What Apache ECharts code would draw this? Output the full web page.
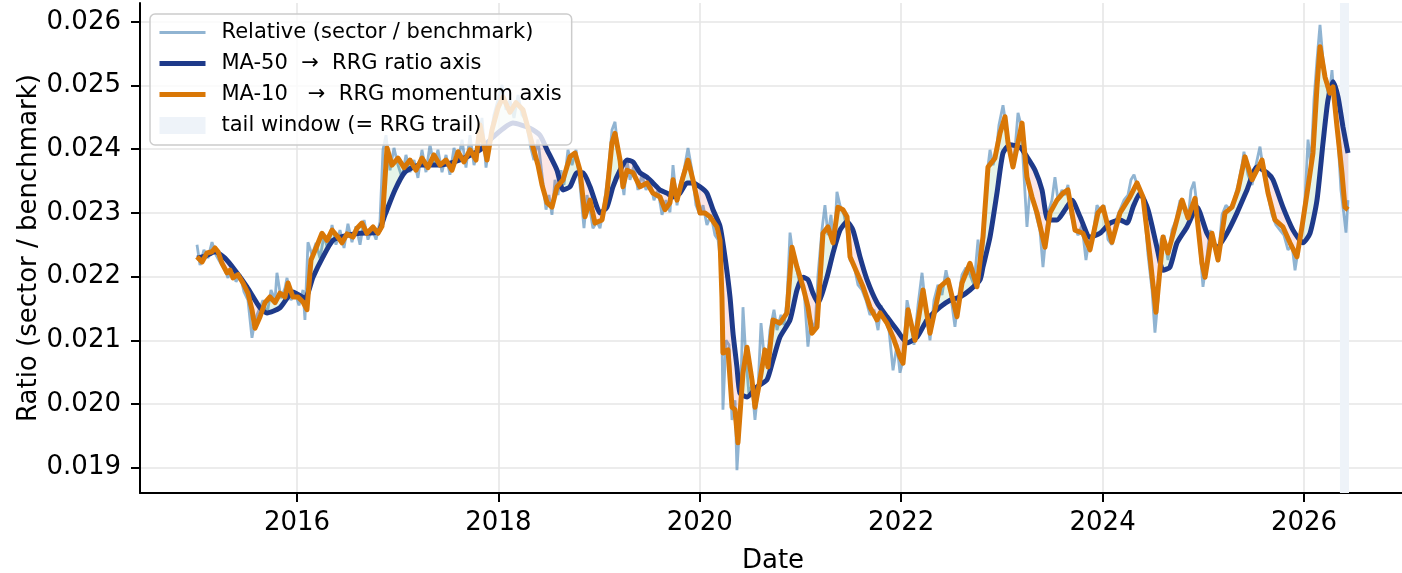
<!DOCTYPE html>
<html>
<head>
<meta charset="utf-8">
<script src="https://cdn.jsdelivr.net/npm/echarts@6.0.0/dist/echarts.min.js"></script>
<style>
  html, body { margin: 0; padding: 0; background: #fff; }
  #chart { width: 1402px; height: 573px; }
</style>
</head>
<body>
<div id="chart"></div>
<script>
// ---- data (x = decimal year) ----
const relYears = [
  2015.007,2015.037,2015.076,2015.116,2015.156,2015.196,2015.235,2015.275,2015.315,2015.354,
  2015.394,2015.434,2015.474,2015.513,2015.553,2015.583,2015.623,2015.662,2015.702,2015.742,
  2015.782,2015.801,2015.841,2015.881,2015.901,2015.940,2015.980,2016.020,2016.060,2016.079,
  2016.109,2016.149,2016.189,2016.228,2016.268,2016.308,2016.348,2016.387,2016.427,2016.467,
  2016.506,2016.546,2016.586,2016.626,2016.666,2016.705,2016.745,2016.785,2016.824,2016.854,
  2016.884,2016.924,2016.963,2017.003,2017.043,2017.082,2017.122,2017.162,2017.201,2017.241,
  2017.281,2017.321,2017.360,2017.400,2017.440,2017.480,2017.519,2017.559,2017.599,2017.639,
  2017.678,2017.718,2017.758,2017.797,2017.837,2017.877,2017.917,2017.956,2017.996,2018.036,
  2018.076,2018.115,2018.155,2018.195,2018.234,2018.274,2018.314,2018.353,2018.393,2018.433,
  2018.473,2018.502,2018.532,2018.562,2018.592,2018.622,2018.651,2018.691,2018.731,2018.771,
  2018.810,2018.850,2018.880,2018.910,2018.939,2018.979,2019.009,2019.049,2019.088,2019.128,
  2019.158,2019.188,2019.217,2019.247,2019.277,2019.307,2019.347,2019.386,2019.426,2019.466,
  2019.505,2019.545,2019.585,2019.625,2019.664,2019.704,2019.734,2019.774,2019.803,2019.843,
  2019.883,2019.922,2019.962,2020.002,2020.032,2020.071,2020.111,2020.151,2020.181,2020.211,
  2020.230,2020.260,2020.290,2020.320,2020.350,2020.369,2020.399,2020.429,2020.459,2020.489,
  2020.518,2020.548,2020.578,2020.608,2020.638,2020.667,2020.697,2020.737,2020.767,2020.806,
  2020.836,2020.866,2020.896,2020.926,2020.965,2020.995,2021.035,2021.074,2021.104,2021.144,
  2021.174,2021.213,2021.243,2021.273,2021.303,2021.333,2021.362,2021.392,2021.432,2021.462,
  2021.492,2021.531,2021.571,2021.611,2021.650,2021.690,2021.730,2021.770,2021.799,2021.839,
  2021.879,2021.919,2021.958,2021.988,2022.018,2022.058,2022.087,2022.127,2022.167,2022.207,
  2022.246,2022.286,2022.326,2022.365,2022.405,2022.445,2022.485,2022.534,2022.564,2022.604,
  2022.643,2022.683,2022.723,2022.763,2022.792,2022.822,2022.852,2022.882,2022.912,2022.941,
  2022.971,2023.011,2023.041,2023.071,2023.100,2023.130,2023.160,2023.190,2023.219,2023.249,
  2023.279,2023.309,2023.339,2023.378,2023.408,2023.438,2023.468,2023.497,2023.527,2023.557,
  2023.597,2023.627,2023.656,2023.686,2023.716,2023.756,2023.795,2023.835,2023.865,2023.905,
  2023.944,2023.974,2024.014,2024.054,2024.093,2024.133,2024.173,2024.212,2024.252,2024.282,
  2024.312,2024.342,2024.371,2024.411,2024.451,2024.491,2024.520,2024.550,2024.580,2024.610,
  2024.649,2024.689,2024.729,2024.769,2024.808,2024.848,2024.878,2024.908,2024.937,2024.967,
  2024.997,2025.027,2025.066,2025.106,2025.146,2025.186,2025.225,2025.265,2025.305,2025.345,
  2025.384,2025.404,2025.444,2025.484,2025.523,2025.563,2025.603,2025.642,2025.682,2025.722,
  2025.762,2025.801,2025.841,2025.881,2025.911,2025.950,2025.980,2026.010,2026.040,2026.069,
  2026.099,2026.129,2026.159,2026.189,2026.218,2026.248,2026.278,2026.308,2026.338,2026.367,
  2026.397,2026.417,2026.437
];
const relValues = [
  0.02250,0.02218,0.02242,0.02229,0.02254,0.02234,0.02223,0.02214,0.02198,0.02218,
  0.02192,0.02203,0.02176,0.02163,0.02104,0.02132,0.02148,0.02163,0.02140,0.02179,
  0.02163,0.02206,0.02166,0.02182,0.02198,0.02163,0.02176,0.02155,0.02179,0.02132,
  0.02254,0.02234,0.02253,0.02229,0.02264,0.02242,0.02281,0.02250,0.02273,0.02245,
  0.02283,0.02254,0.02279,0.02250,0.02289,0.02258,0.02276,0.02258,0.02286,0.02399,
  0.02422,0.02367,0.02402,0.02375,0.02355,0.02391,0.02364,0.02383,0.02355,0.02399,
  0.02364,0.02407,0.02375,0.02399,0.02364,0.02391,0.02360,0.02402,0.02380,0.02415,
  0.02371,0.02422,0.02375,0.02399,0.02449,0.02371,0.02415,0.02454,0.02477,0.02501,
  0.02462,0.02477,0.02449,0.02485,0.02454,0.02446,0.02407,0.02383,0.02415,0.02360,
  0.02305,0.02328,0.02297,0.02352,0.02328,0.02367,0.02344,0.02399,0.02375,0.02399,
  0.02344,0.02276,0.02328,0.02305,0.02276,0.02286,0.02276,0.02312,0.02360,0.02430,
  0.02443,0.02399,0.02360,0.02328,0.02383,0.02352,0.02375,0.02336,0.02360,0.02336,
  0.02352,0.02320,0.02336,0.02297,0.02320,0.02301,0.02375,0.02312,0.02344,0.02367,
  0.02402,0.02367,0.02312,0.02297,0.02312,0.02281,0.02297,0.02265,0.02258,0.02218,
  0.01991,0.02100,0.02093,0.01975,0.02006,0.01896,0.01975,0.02152,0.02069,0.02014,
  0.02030,0.01975,0.02022,0.02127,0.02077,0.02061,0.02116,0.02148,0.02116,0.02140,
  0.02124,0.02163,0.02269,0.02234,0.02210,0.02187,0.02179,0.02090,0.02132,0.02116,
  0.02203,0.02273,0.02312,0.02265,0.02297,0.02242,0.02333,0.02312,0.02297,0.02273,
  0.02226,0.02218,0.02187,0.02179,0.02163,0.02140,0.02148,0.02116,0.02155,0.02132,
  0.02116,0.02053,0.02093,0.02049,0.02069,0.02163,0.02140,0.02093,0.02155,0.02206,
  0.02148,0.02100,0.02163,0.02187,0.02171,0.02210,0.02179,0.02121,0.02163,0.02203,
  0.02214,0.02203,0.02187,0.02258,0.02210,0.02265,0.02360,0.02399,0.02375,0.02391,
  0.02438,0.02469,0.02438,0.02399,0.02375,0.02399,0.02457,0.02438,0.02360,0.02278,
  0.02336,0.02320,0.02297,0.02273,0.02215,0.02265,0.02305,0.02320,0.02356,0.02320,
  0.02336,0.02328,0.02344,0.02297,0.02281,0.02265,0.02281,0.02226,0.02258,0.02265,
  0.02312,0.02305,0.02312,0.02258,0.02250,0.02289,0.02305,0.02320,0.02328,0.02352,
  0.02360,0.02344,0.02336,0.02312,0.02234,0.02179,0.02112,0.02163,0.02258,0.02265,
  0.02226,0.02273,0.02289,0.02320,0.02312,0.02289,0.02336,0.02349,0.02312,0.02242,
  0.02184,0.02218,0.02273,0.02250,0.02223,0.02297,0.02312,0.02305,0.02320,0.02344,
  0.02375,0.02396,0.02360,0.02344,0.02375,0.02404,0.02360,0.02328,0.02297,0.02281,
  0.02273,0.02265,0.02242,0.02250,0.02210,0.02250,0.02281,0.02320,0.02415,0.02375,
  0.02477,0.02540,0.02595,0.02540,0.02509,0.02477,0.02524,0.02462,0.02415,0.02336,
  0.02297,0.02269,0.02320
];

const ma50Years = [
  2015.007,2015.086,2015.186,2015.285,2015.384,2015.503,2015.633,2015.702,2015.831,2015.960,
  2016.079,2016.159,2016.258,2016.357,2016.477,2016.626,2016.804,2016.874,2016.973,2017.072,
  2017.221,2017.420,2017.619,2017.817,2017.946,2018.145,2018.314,2018.413,2018.483,2018.582,
  2018.642,2018.711,2018.781,2018.840,2018.910,2018.979,2019.009,2019.078,2019.138,2019.208,
  2019.277,2019.337,2019.406,2019.476,2019.535,2019.605,2019.674,2019.734,2019.803,2019.873,
  2019.932,2020.002,2020.071,2020.131,2020.201,2020.250,2020.300,2020.330,2020.369,2020.399,
  2020.469,2020.568,2020.667,2020.727,2020.796,2020.896,2020.965,2021.025,2021.075,2021.124,
  2021.174,2021.263,2021.323,2021.393,2021.462,2021.521,2021.591,2021.661,2021.760,2021.859,
  2021.958,2022.058,2022.157,2022.256,2022.385,2022.485,2022.584,2022.683,2022.783,2022.812,
  2022.882,2022.951,2023.011,2023.080,2023.180,2023.249,2023.329,2023.398,2023.458,2023.547,
  2023.627,2023.696,2023.776,2023.875,2023.974,2024.074,2024.173,2024.242,2024.302,2024.371,
  2024.451,2024.540,2024.600,2024.669,2024.739,2024.838,2024.938,2025.037,2025.136,2025.235,
  2025.335,2025.434,2025.533,2025.633,2025.692,2025.791,2025.891,2025.990,2026.060,2026.129,
  2026.189,2026.238,2026.288,2026.338,2026.387,2026.437
];
const ma50Values = [
  0.02229,0.02232,0.02239,0.02229,0.02210,0.02184,0.02151,0.02143,0.02151,0.02176,
  0.02166,0.02199,0.02231,0.02257,0.02264,0.02268,0.02270,0.02297,0.02336,0.02364,
  0.02375,0.02375,0.02383,0.02399,0.02419,0.02441,0.02433,0.02422,0.02399,0.02367,
  0.02336,0.02341,0.02363,0.02363,0.02341,0.02309,0.02300,0.02309,0.02341,0.02367,
  0.02383,0.02380,0.02363,0.02356,0.02347,0.02336,0.02331,0.02325,0.02331,0.02347,
  0.02347,0.02341,0.02331,0.02305,0.02279,0.02231,0.02168,0.02111,0.02058,0.02017,
  0.02011,0.02027,0.02038,0.02069,0.02105,0.02132,0.02179,0.02199,0.02195,0.02174,
  0.02159,0.02199,0.02237,0.02273,0.02286,0.02273,0.02231,0.02195,0.02159,0.02137,
  0.02116,0.02096,0.02105,0.02132,0.02152,0.02163,0.02168,0.02179,0.02195,0.02215,
  0.02262,0.02331,0.02394,0.02407,0.02403,0.02388,0.02367,0.02336,0.02289,0.02289,
  0.02305,0.02320,0.02294,0.02262,0.02268,0.02284,0.02289,0.02284,0.02309,0.02331,
  0.02305,0.02246,0.02210,0.02215,0.02253,0.02278,0.02309,0.02268,0.02246,0.02268,
  0.02300,0.02336,0.02372,0.02363,0.02352,0.02309,0.02273,0.02253,0.02268,0.02320,
  0.02410,0.02477,0.02506,0.02482,0.02435,0.02394
];

const ma10Years = [
  2015.007,2015.057,2015.106,2015.156,2015.186,2015.216,2015.255,2015.305,2015.335,2015.364,
  2015.414,2015.464,2015.513,2015.553,2015.583,2015.633,2015.682,2015.732,2015.782,2015.831,
  2015.881,2015.911,2015.960,2016.010,2016.060,2016.099,2016.139,2016.189,2016.248,2016.298,
  2016.348,2016.397,2016.447,2016.497,2016.556,2016.596,2016.645,2016.695,2016.755,2016.804,
  2016.844,2016.894,2016.943,2017.003,2017.063,2017.122,2017.182,2017.241,2017.301,2017.360,
  2017.420,2017.480,2017.539,2017.599,2017.658,2017.718,2017.778,2017.817,2017.887,2017.936,
  2017.996,2018.046,2018.115,2018.175,2018.244,2018.294,2018.344,2018.393,2018.433,2018.483,
  2018.532,2018.582,2018.642,2018.711,2018.761,2018.810,2018.860,2018.910,2018.959,2019.029,
  2019.078,2019.128,2019.158,2019.208,2019.237,2019.277,2019.337,2019.406,2019.476,2019.535,
  2019.605,2019.654,2019.704,2019.734,2019.774,2019.833,2019.883,2019.932,2020.002,2020.052,
  2020.101,2020.171,2020.201,2020.220,2020.230,2020.280,2020.320,2020.349,2020.379,2020.429,
  2020.469,2020.518,2020.548,2020.598,2020.647,2020.677,2020.727,2020.796,2020.866,2020.916,
  2020.965,2021.025,2021.075,2021.114,2021.164,2021.194,2021.223,2021.273,2021.323,2021.372,
  2021.422,2021.462,2021.492,2021.561,2021.621,2021.690,2021.760,2021.790,2021.859,2021.919,
  2021.988,2022.018,2022.068,2022.137,2022.217,2022.286,2022.385,2022.465,2022.554,2022.604,
  2022.683,2022.753,2022.812,2022.862,2022.931,2022.981,2023.031,2023.061,2023.110,2023.200,
  2023.249,2023.299,2023.349,2023.428,2023.478,2023.547,2023.607,2023.656,2023.726,2023.805,
  2023.875,2023.954,2024.004,2024.093,2024.173,2024.272,2024.342,2024.401,2024.471,2024.530,
  2024.600,2024.649,2024.719,2024.789,2024.848,2024.918,2024.987,2025.017,2025.086,2025.146,
  2025.216,2025.285,2025.345,2025.414,2025.484,2025.583,2025.643,2025.712,2025.791,2025.861,
  2025.930,2025.980,2026.040,2026.089,2026.129,2026.159,2026.209,2026.258,2026.288,2026.328,
  2026.377,2026.407,2026.437
];
const ma10Values = [
  0.02231,0.02223,0.02237,0.02239,0.02245,0.02239,0.02221,0.02206,0.02210,0.02198,
  0.02203,0.02190,0.02174,0.02148,0.02119,0.02137,0.02159,0.02168,0.02159,0.02174,
  0.02168,0.02190,0.02168,0.02168,0.02160,0.02148,0.02226,0.02245,0.02268,0.02257,
  0.02273,0.02264,0.02253,0.02267,0.02262,0.02276,0.02284,0.02268,0.02278,0.02268,
  0.02279,0.02402,0.02375,0.02386,0.02371,0.02383,0.02367,0.02386,0.02371,0.02391,
  0.02375,0.02383,0.02367,0.02396,0.02380,0.02399,0.02383,0.02438,0.02383,0.02430,
  0.02465,0.02482,0.02458,0.02473,0.02462,0.02433,0.02403,0.02375,0.02344,0.02316,
  0.02309,0.02341,0.02352,0.02388,0.02394,0.02367,0.02294,0.02320,0.02284,0.02289,
  0.02331,0.02410,0.02425,0.02383,0.02341,0.02367,0.02363,0.02341,0.02347,0.02331,
  0.02325,0.02305,0.02316,0.02352,0.02320,0.02356,0.02383,0.02352,0.02300,0.02300,
  0.02294,0.02278,0.02257,0.02168,0.02080,0.02085,0.01995,0.01991,0.01939,0.02049,
  0.02089,0.02038,0.01995,0.02038,0.02085,0.02058,0.02132,0.02127,0.02143,0.02246,
  0.02215,0.02184,0.02152,0.02111,0.02121,0.02195,0.02268,0.02278,0.02253,0.02309,
  0.02305,0.02294,0.02231,0.02206,0.02184,0.02152,0.02132,0.02143,0.02127,0.02105,
  0.02074,0.02064,0.02148,0.02100,0.02179,0.02111,0.02184,0.02195,0.02137,0.02190,
  0.02221,0.02184,0.02262,0.02372,0.02386,0.02425,0.02451,0.02410,0.02372,0.02441,
  0.02356,0.02325,0.02300,0.02246,0.02300,0.02320,0.02331,0.02336,0.02273,0.02268,
  0.02242,0.02300,0.02309,0.02254,0.02300,0.02325,0.02347,0.02325,0.02231,0.02144,
  0.02262,0.02237,0.02278,0.02320,0.02292,0.02323,0.02221,0.02199,0.02268,0.02226,
  0.02300,0.02309,0.02336,0.02388,0.02352,0.02383,0.02331,0.02289,0.02278,0.02253,
  0.02231,0.02278,0.02341,0.02394,0.02498,0.02561,0.02513,0.02488,0.02498,0.02435,
  0.02363,0.02309,0.02305
];

const tailWindow = [2026.357, 2026.447];
const xTicks = [2016, 2018, 2020, 2022, 2024, 2026];
const yTicks = [0.019, 0.020, 0.021, 0.022, 0.023, 0.024, 0.025, 0.026];

const NAME_REL = 'Relative (sector / benchmark)';
const NAME_MA50 = 'MA-50  \u2192  RRG ratio axis';
const NAME_MA10 = 'MA-10   \u2192  RRG momentum axis';
const NAME_TAIL = 'tail window (= RRG trail)';

const COLOR_REL = 'rgba(70,130,180,0.6)';
const COLOR_MA50 = '#1e3a8a';
const COLOR_MA10 = '#d97706';
const COLOR_TAIL = '#eef3f9';
const FILL_UP = 'rgba(60,170,80,0.13)';
const FILL_DOWN = 'rgba(235,60,60,0.13)';

const pair = (xs, ys) => xs.map((x, i) => [x, ys[i]]);

// value of a polyline at x (used only to shade between the two drawn MAs)
function lineAt(xs, ys, x) {
  if (x <= xs[0]) return ys[0];
  for (let i = 1; i < xs.length; i++) {
    if (x <= xs[i]) {
      const t = (x - xs[i - 1]) / (xs[i] - xs[i - 1]);
      return ys[i - 1] + t * (ys[i] - ys[i - 1]);
    }
  }
  return ys[ys.length - 1];
}

// shaded band between MA-10 and MA-50, split where they cross
function renderFill(params, api) {
  const xs = Array.from(new Set(ma10Years.concat(ma50Years))).sort((a, b) => a - b);
  const pts = xs.map(x => ({ x, a: lineAt(ma10Years, ma10Values, x), b: lineAt(ma50Years, ma50Values, x) }));
  const children = [];
  let seg = [pts[0]];
  const flush = () => {
    if (seg.length < 2) return;
    const up = seg.reduce((s, p) => s + (p.a - p.b), 0) >= 0;
    const top = seg.map(p => api.coord([p.x, p.a]));
    const bot = seg.slice().reverse().map(p => api.coord([p.x, p.b]));
    children.push({
      type: 'polygon',
      shape: { points: top.concat(bot) },
      style: { fill: up ? FILL_UP : FILL_DOWN },
      silent: true
    });
  };
  for (let i = 1; i < pts.length; i++) {
    const p = pts[i - 1], q = pts[i];
    const d1 = p.a - p.b, d2 = q.a - q.b;
    if ((d1 > 0 && d2 < 0) || (d1 < 0 && d2 > 0)) {
      const t = d1 / (d1 - d2);
      const cx = p.x + t * (q.x - p.x);
      const cy = p.a + t * (q.a - p.a);
      const c = { x: cx, a: cy, b: cy };
      seg.push(c);
      flush();
      seg = [c];
    }
    seg.push(q);
  }
  flush();
  return { type: 'group', children };
}

const FONT = 'DejaVu Sans';
const chart = echarts.init(document.getElementById('chart'), null, { renderer: 'canvas' });

const option = {
  animation: false,
  backgroundColor: '#ffffff',
  textStyle: { fontFamily: FONT },
  grid: { left: 140, right: -4, top: 3, bottom: 80, containLabel: false, outerBoundsMode: 'none' },
  legend: {
    orient: 'vertical',
    left: 150,
    top: 14,
    z: 20,
    padding: [8, 10, 9, 7],
    itemWidth: 46,
    itemHeight: 17,
    itemGap: 10,
    backgroundColor: 'rgba(255,255,255,0.8)',
    borderColor: '#cccccc',
    borderWidth: 1.5,
    borderRadius: 5,
    textStyle: { fontSize: 21, color: '#000', fontFamily: FONT, padding: [0, 0, 0, 11] },
    data: [
      { name: NAME_REL, lineStyle: { width: 3 }, itemStyle: { opacity: 0 } },
      { name: NAME_MA50, lineStyle: { width: 5 }, itemStyle: { opacity: 0 } },
      { name: NAME_MA10, lineStyle: { width: 5 }, itemStyle: { opacity: 0 } },
      { name: NAME_TAIL, icon: 'rect', itemStyle: { color: COLOR_TAIL } }
    ]
  },
  xAxis: {
    type: 'value',
    min: 2014.441,
    max: 2027.013,
    name: 'Date',
    nameLocation: 'middle',
    nameGap: 55,
    nameMoveOverlap: false,
    nameTextStyle: { fontSize: 26, color: '#000', fontFamily: FONT },
    axisLine: { show: true, onZero: false, lineStyle: { color: '#000', width: 2 } },
    axisTick: { show: true, customValues: xTicks, length: 9, lineStyle: { color: '#000', width: 2 } },
    axisLabel: {
      customValues: xTicks, fontSize: 26, color: '#000', margin: 17, fontFamily: FONT,
      formatter: v => String(Math.round(v))
    },
    splitLine: { show: true, lineStyle: { color: '#e6e6e6', width: 1.6 } }
  },
  yAxis: {
    type: 'value',
    min: 0.018603,
    max: 0.026295,
    name: 'Ratio (sector / benchmark)',
    nameLocation: 'middle',
    nameRotate: 90,
    nameGap: 98,
    nameMoveOverlap: false,
    nameTextStyle: { fontSize: 26, color: '#000', fontFamily: FONT },
    axisLine: { show: true, onZero: false, lineStyle: { color: '#000', width: 2 } },
    axisTick: { show: true, customValues: yTicks, length: 9, lineStyle: { color: '#000', width: 2 } },
    axisLabel: {
      customValues: yTicks, fontSize: 26, color: '#000', margin: 19, fontFamily: FONT,
      formatter: v => v.toFixed(3)
    },
    splitLine: { show: true, lineStyle: { color: '#e6e6e6', width: 1.6 } }
  },
  series: [
    {
      name: NAME_TAIL,
      type: 'line',
      data: [],
      color: COLOR_TAIL,
      z: 1,
      markArea: {
        silent: true,
        itemStyle: { color: COLOR_TAIL },
        data: [[{ xAxis: tailWindow[0] }, { xAxis: tailWindow[1] }]]
      }
    },
    {
      name: NAME_REL,
      type: 'line',
      data: pair(relYears, relValues),
      symbol: 'none',
      color: COLOR_REL,
      lineStyle: { color: COLOR_REL, width: 2.8 },
      z: 2
    },
    {
      name: 'fill',
      type: 'custom',
      data: [[ma10Years[0], ma10Values[0]]],
      renderItem: renderFill,
      clip: true,
      silent: true,
      z: 3
    },
    {
      name: NAME_MA50,
      type: 'line',
      data: pair(ma50Years, ma50Values),
      symbol: 'none',
      smooth: 0.2,
      color: COLOR_MA50,
      lineStyle: { color: COLOR_MA50, width: 5 },
      z: 4
    },
    {
      name: NAME_MA10,
      type: 'line',
      data: pair(ma10Years, ma10Values),
      symbol: 'none',
      color: COLOR_MA10,
      lineStyle: { color: COLOR_MA10, width: 5, join: 'round' },
      z: 5
    }
  ]
};

chart.setOption(option);
</script>
</body>
</html>
